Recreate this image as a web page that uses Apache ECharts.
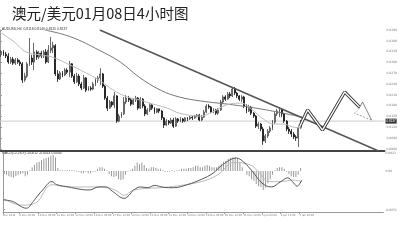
<!DOCTYPE html>
<html>
<head>
<meta charset="utf-8">
<script src="https://cdn.jsdelivr.net/npm/echarts@6/dist/echarts.min.js"></script>
<style>
  html, body { margin: 0; padding: 0; background: #fff; }
  #chart { width: 400px; height: 248px; }
</style>
</head>
<body>
<div id="chart"></div>
<script>
// bar positions of the time labels and their texts
const tickBars = [0, 7, 15, 23, 31, 39, 47, 55, 63, 71, 79, 87, 95, 103, 111, 119, 127]
const tickLabels = ['Dec 2014', '8 Dec 20:00', '10 Dec 04:00', '11 Dec 12:00', '12 Dec 20:00',
  '16 Dec 04:00', '17 Dec 12:00', '18 Dec 20:00', '22 Dec 04:00', '23 Dec 12:00', '24 Dec 20:00',
  '29 Dec 04:00', '30 Dec 12:00', '31 Dec 20:00', '5 Jan 04:00', '6 Jan 12:00', '7 Jan 20:00']
const priceTicks = [0.8054, 0.8060, 0.8090, 0.8120, 0.8150, 0.8180, 0.8210, 0.8240, 0.8270, 0.8300, 0.8330, 0.8360, 0.8390]
const macdTicks = [-0.0051, 0, 0.0023]

// 4h candles: [open, close, low, high]
const candles = [
  [0.8321, 0.8329, 0.8315, 0.8334], [0.8329, 0.8323, 0.8318, 0.8334], [0.8323, 0.8318, 0.8312, 0.8329],
  [0.8318, 0.8301, 0.8296, 0.8326], [0.8301, 0.8309, 0.8296, 0.8315], [0.8309, 0.8298, 0.8293, 0.8315],
  [0.8298, 0.8307, 0.8293, 0.8312], [0.8307, 0.8301, 0.8296, 0.8312], [0.8301, 0.8296, 0.8290, 0.8307],
  [0.8296, 0.8251, 0.8243, 0.8301], [0.8251, 0.8262, 0.8246, 0.8271], [0.8262, 0.8296, 0.8257, 0.8301],
  [0.8296, 0.8312, 0.8290, 0.8368], [0.8312, 0.8301, 0.8293, 0.8321], [0.8301, 0.8329, 0.8279, 0.8354],
  [0.8329, 0.8315, 0.8307, 0.8334], [0.8315, 0.8326, 0.8309, 0.8332], [0.8326, 0.8318, 0.8312, 0.8332],
  [0.8318, 0.8329, 0.8312, 0.8334], [0.8329, 0.8301, 0.8296, 0.8337], [0.8301, 0.8334, 0.8298, 0.8348],
  [0.8334, 0.8340, 0.8326, 0.8371], [0.8340, 0.8348, 0.8326, 0.8357], [0.8346, 0.8268, 0.8262, 0.8351],
  [0.8268, 0.8254, 0.8246, 0.8279], [0.8254, 0.8271, 0.8251, 0.8276], [0.8271, 0.8265, 0.8259, 0.8276],
  [0.8265, 0.8279, 0.8262, 0.8284], [0.8279, 0.8273, 0.8268, 0.8284], [0.8273, 0.8296, 0.8259, 0.8304],
  [0.8296, 0.8262, 0.8257, 0.8298], [0.8262, 0.8246, 0.8240, 0.8268], [0.8246, 0.8262, 0.8243, 0.8271],
  [0.8262, 0.8240, 0.8234, 0.8268], [0.8240, 0.8229, 0.8223, 0.8246], [0.8229, 0.8257, 0.8226, 0.8265],
  [0.8257, 0.8223, 0.8218, 0.8259], [0.8223, 0.8229, 0.8221, 0.8234], [0.8229, 0.8226, 0.8221, 0.8234],
  [0.8226, 0.8240, 0.8223, 0.8246], [0.8240, 0.8251, 0.8234, 0.8257], [0.8251, 0.8257, 0.8243, 0.8262],
  [0.8257, 0.8268, 0.8237, 0.8284], [0.8268, 0.8234, 0.8229, 0.8271], [0.8234, 0.8201, 0.8196, 0.8237],
  [0.8201, 0.8173, 0.8165, 0.8207], [0.8173, 0.8190, 0.8171, 0.8196], [0.8190, 0.8182, 0.8176, 0.8193],
  [0.8182, 0.8207, 0.8173, 0.8218], [0.8207, 0.8137, 0.8132, 0.8209], [0.8137, 0.8151, 0.8134, 0.8157],
  [0.8151, 0.8157, 0.8146, 0.8162], [0.8157, 0.8190, 0.8154, 0.8204], [0.8190, 0.8201, 0.8184, 0.8209],
  [0.8201, 0.8196, 0.8190, 0.8207], [0.8196, 0.8184, 0.8179, 0.8201], [0.8184, 0.8196, 0.8182, 0.8201],
  [0.8196, 0.8201, 0.8190, 0.8207], [0.8201, 0.8173, 0.8168, 0.8204], [0.8173, 0.8198, 0.8171, 0.8204],
  [0.8198, 0.8179, 0.8173, 0.8201], [0.8179, 0.8157, 0.8151, 0.8184], [0.8157, 0.8168, 0.8154, 0.8173],
  [0.8168, 0.8182, 0.8162, 0.8187], [0.8182, 0.8173, 0.8168, 0.8184], [0.8173, 0.8162, 0.8157, 0.8176],
  [0.8162, 0.8171, 0.8159, 0.8173], [0.8171, 0.8165, 0.8159, 0.8171], [0.8165, 0.8146, 0.8140, 0.8168],
  [0.8146, 0.8126, 0.8118, 0.8148], [0.8126, 0.8137, 0.8123, 0.8143], [0.8137, 0.8132, 0.8126, 0.8140],
  [0.8132, 0.8140, 0.8129, 0.8146], [0.8140, 0.8123, 0.8118, 0.8146], [0.8123, 0.8143, 0.8121, 0.8148],
  [0.8143, 0.8137, 0.8132, 0.8146], [0.8137, 0.8143, 0.8134, 0.8148], [0.8143, 0.8137, 0.8132, 0.8146],
  [0.8137, 0.8146, 0.8134, 0.8148], [0.8146, 0.8143, 0.8137, 0.8148], [0.8143, 0.8148, 0.8140, 0.8151],
  [0.8148, 0.8146, 0.8140, 0.8151], [0.8146, 0.8151, 0.8143, 0.8154], [0.8151, 0.8154, 0.8148, 0.8157],
  [0.8154, 0.8140, 0.8137, 0.8157], [0.8140, 0.8148, 0.8137, 0.8154], [0.8148, 0.8162, 0.8146, 0.8168],
  [0.8162, 0.8179, 0.8159, 0.8184], [0.8179, 0.8176, 0.8171, 0.8184], [0.8176, 0.8162, 0.8159, 0.8179],
  [0.8162, 0.8168, 0.8159, 0.8173], [0.8168, 0.8159, 0.8154, 0.8171], [0.8159, 0.8168, 0.8154, 0.8173],
  [0.8168, 0.8190, 0.8165, 0.8196], [0.8190, 0.8204, 0.8184, 0.8209], [0.8204, 0.8198, 0.8193, 0.8209],
  [0.8198, 0.8212, 0.8196, 0.8218], [0.8212, 0.8207, 0.8201, 0.8218], [0.8207, 0.8226, 0.8204, 0.8232],
  [0.8226, 0.8215, 0.8209, 0.8232], [0.8215, 0.8207, 0.8201, 0.8218], [0.8207, 0.8198, 0.8193, 0.8209],
  [0.8198, 0.8204, 0.8190, 0.8209], [0.8204, 0.8179, 0.8173, 0.8207], [0.8179, 0.8165, 0.8159, 0.8184],
  [0.8165, 0.8176, 0.8162, 0.8182], [0.8176, 0.8159, 0.8154, 0.8179], [0.8159, 0.8151, 0.8146, 0.8162],
  [0.8151, 0.8123, 0.8118, 0.8154], [0.8123, 0.8129, 0.8115, 0.8134], [0.8129, 0.8115, 0.8109, 0.8132],
  [0.8115, 0.8082, 0.8071, 0.8121], [0.8082, 0.8096, 0.8076, 0.8101], [0.8096, 0.8109, 0.8090, 0.8115],
  [0.8109, 0.8118, 0.8104, 0.8123], [0.8118, 0.8134, 0.8112, 0.8140], [0.8134, 0.8157, 0.8129, 0.8162],
  [0.8157, 0.8165, 0.8151, 0.8171], [0.8165, 0.8168, 0.8148, 0.8176], [0.8168, 0.8157, 0.8148, 0.8171],
  [0.8157, 0.8137, 0.8132, 0.8159], [0.8137, 0.8115, 0.8109, 0.8140], [0.8115, 0.8109, 0.8101, 0.8121],
  [0.8109, 0.8101, 0.8093, 0.8115], [0.8101, 0.8093, 0.8087, 0.8107], [0.8093, 0.8090, 0.8082, 0.8098],
  [0.8090, 0.8118, 0.8065, 0.8121], [0.8118, 0.8137, 0.8115, 0.8140]
]

// moving averages read at a few points: [bar position, price]
const fastMA = [[0, 0.8384], [6, 0.8357], [11, 0.8329], [17, 0.8321], [22, 0.8315], [28, 0.8298], [34, 0.8279],
  [42, 0.8251], [48, 0.8223], [54, 0.8204], [59, 0.8196], [65, 0.8184], [71, 0.8173], [76, 0.8159], [85, 0.8151],
  [90, 0.8162], [96, 0.8182], [102, 0.8187], [107, 0.8168], [111, 0.8146], [116, 0.8129], [120, 0.8129],
  [124, 0.8121], [128, 0.8118]]
const slowMA = [[19, 0.8390], [30, 0.8371], [42, 0.8334], [51, 0.8301], [59, 0.8259], [68, 0.8223], [76, 0.8204],
  [85, 0.8193], [99, 0.8182], [113, 0.8168], [128, 0.8148]]

// drawn annotations: down trend line, forecast zigzag and its arrow head
const trendLine = [[42.3, 0.8390], [160.5, 0.8054]]
const forecastPath = [[127, 0.8121], [130.4, 0.8168], [136.7, 0.8112], [146.1, 0.8218], [152.4, 0.8176]]
const arrowHeadSolid = [[152.0, 0.8170], [153.7, 0.8190], [157.5, 0.8140]]
const arrowHeadDashed = [[157.5, 0.8140], [150.3, 0.8159], [151.5, 0.8166]]

// MACD panel
const macdHist = [
  -0.0004, -0.0005, -0.0007, -0.0008, -0.0009, -0.0007, -0.0005, -0.0004, -0.0003, -0.0007,
  -0.0005, 0.0001, 0.0005, 0.0008, 0.0011, 0.0012, 0.0014, 0.0016, 0.0017, 0.0018,
  0.0020, 0.0021, 0.0018, 0.0004, 0.0001, 0.0001, 0.0001, 0.0001, 0.0001, 0.0001,
  0.0001, -0.0001, -0.0001, -0.0003, -0.0003, -0.0001, -0.0003, -0.0003, -0.0001, -0.0001,
  0.0003, 0.0005, 0.0005, 0.0003, 0.0001, -0.0004, -0.0007, -0.0008, -0.0007, -0.0011,
  -0.0012, -0.0011, -0.0005, -0.0001, 0.0001, 0.0003, 0.0007, 0.0011, 0.0009, 0.0011,
  0.0008, 0.0004, 0.0003, 0.0005, 0.0005, 0.0004, 0.0003, 0.0003, 0.0001, -0.0001,
  -0.0001, -0.0001, 0.0001, -0.0001, 0.0001, 0.0001, 0.0003, 0.0003, 0.0003, 0.0004,
  0.0004, 0.0005, 0.0007, 0.0007, 0.0005, 0.0005, 0.0007, 0.0008, 0.0007, 0.0005,
  0.0005, 0.0005, 0.0007, 0.0009, 0.0012, 0.0013, 0.0016, 0.0017, 0.0018, 0.0018,
  0.0016, 0.0012, 0.0005, 0.0000, -0.0005, -0.0007, -0.0011, -0.0013, -0.0017, -0.0020,
  -0.0021, -0.0025, -0.0022, -0.0016, -0.0011, -0.0005, 0.0001, 0.0004, 0.0005, 0.0005,
  0.0003, -0.0001, -0.0004, -0.0007, -0.0008, -0.0008, -0.0005, 0.0004
]
const macdLine = [[0, -0.0038], [4, -0.0040], [10, -0.0049], [13, -0.0040], [14, -0.0036], [17, -0.0025],
  [21, -0.0014], [23, -0.0018], [28, -0.0021], [33, -0.0024], [37, -0.0025], [41, -0.0021], [44, -0.0021],
  [47, -0.0027], [52, -0.0036], [54, -0.0032], [56, -0.0025], [59, -0.0021], [62, -0.0022], [65, -0.0019],
  [68, -0.0021], [71, -0.0022], [73, -0.0022], [79, -0.0018], [85, -0.0011], [90, -0.0003], [94, 0.0008],
  [100, 0.0017], [103, 0.0012], [107, -0.0001], [111, -0.0016], [115, -0.0021], [119, -0.0014],
  [122, -0.0009], [124, -0.0014], [126, -0.0020], [128, -0.0012]]
const signalLine = [[0, -0.0036], [8, -0.0045], [14, -0.0042], [21, -0.0018], [28, -0.0021], [42, -0.0021],
  [48, -0.0025], [52, -0.0032], [56, -0.0025], [71, -0.0021], [85, -0.0014], [92, -0.0005], [99, 0.0011],
  [106, 0.0008], [110, -0.0003], [114, -0.0014], [119, -0.0014], [124, -0.0012], [128, -0.0014]]

const lastClose = candles[candles.length - 1][1]
const tinyText = { fontFamily: 'DejaVu Sans', color: '#777' }

function plainLine(data, color, width, extra) {
  return Object.assign({
    type: 'line', data, showSymbol: false, silent: true,
    lineStyle: { color, width }
  }, extra)
}

const chart = echarts.init(document.getElementById('chart'))
chart.setOption({
  animation: false,
  backgroundColor: '#fff',
  title: {
    text: '澳元/美元01月08日4小时图', left: 7, top: 1,
    textStyle: { fontSize: 14.5, fontWeight: 'normal', color: '#222', fontFamily: 'Noto Sans CJK SC' }
  },
  graphic: [
    { type: 'text', left: 2, top: 28, style: { text: 'AUDUSD,H4  0.8118 0.8140 0.8115 0.8137', fontSize: 3.4, fill: '#333' } },
    { type: 'text', left: 2, top: 152, style: { text: 'MACD(12,26,9) -0.0012 -0.0014 0.0004', fontSize: 3.4, fill: '#333' } }
  ],
  grid: [
    { left: 0, top: 30, width: 385, height: 121 },
    { left: 0, top: 151, width: 385, height: 61 }
  ],
  xAxis: [
    {
      type: 'value', gridIndex: 0, min: 0, max: 163,
      axisLine: { show: true, onZero: false, lineStyle: { color: '#444', width: 2 } },
      axisTick: { show: false }, axisLabel: { show: false }, splitLine: { show: false }
    },
    {
      type: 'value', gridIndex: 1, min: 0, max: 163,
      axisLine: { show: true, onZero: false, lineStyle: { color: '#999' } },
      axisTick: { customValues: tickBars, length: 2, lineStyle: { color: '#999' } },
      axisLabel: {
        customValues: tickBars, align: 'left', fontSize: 2.6, margin: 1.5, ...tinyText,
        formatter: (v) => tickLabels[tickBars.indexOf(v)] || ''
      },
      splitLine: { show: false }
    }
  ],
  yAxis: [
    {
      type: 'value', gridIndex: 0, position: 'right', min: 0.8054, max: 0.8390,
      axisLine: { show: true, lineStyle: { color: '#999' } },
      axisTick: { show: true, customValues: priceTicks, length: 2, lineStyle: { color: '#999' } },
      axisLabel: { customValues: priceTicks, fontSize: 3, margin: 2, ...tinyText, formatter: (v) => v.toFixed(4) },
      splitLine: { show: false }
    },
    {
      type: 'value', gridIndex: 1, position: 'right', min: -0.0054, max: 0.00263,
      axisLine: { show: true, lineStyle: { color: '#999' } },
      axisTick: { show: true, customValues: macdTicks, length: 2, lineStyle: { color: '#999' } },
      axisLabel: {
        customValues: macdTicks, fontSize: 3, margin: 2, ...tinyText,
        formatter: (v) => (v === 0 ? '0.00' : v.toFixed(4))
      },
      splitLine: { show: false }
    }
  ],
  series: [
    // current price line with its value box on the price axis
    plainLine([[0, lastClose], [163, lastClose]], '#ccc', 1, {
      z: 1,
      endLabel: {
        show: true, distance: 1, formatter: () => lastClose.toFixed(4),
        fontSize: 3, color: '#fff', backgroundColor: '#333', padding: [1, 1]
      }
    }),
    plainLine(slowMA, '#777', 1, { smooth: 0.4 }),
    plainLine(fastMA, '#bbb', 1, { smooth: 0.4 }),
    {
      type: 'candlestick', xAxisIndex: 0, yAxisIndex: 0, silent: true,
      data: candles.map((d, i) => [i + 0.5, d[0], d[1], d[2], d[3]]),
      barWidth: 1.4,
      itemStyle: { color: '#fff', color0: '#111', borderColor: '#444', borderColor0: '#111', borderWidth: 0.8 }
    },
    plainLine(trendLine, '#555', 1.5),
    plainLine(forecastPath, '#333', 3.2, { z: 5 }),
    plainLine(forecastPath, '#fff', 1.3, { z: 6 }),
    plainLine(arrowHeadSolid, '#666', 0.8, { z: 6 }),
    plainLine(arrowHeadDashed, '#888', 0.8, { z: 6, lineStyle: { color: '#888', width: 0.8, type: [2, 1.5] } }),
    {
      type: 'bar', xAxisIndex: 1, yAxisIndex: 1, silent: true, barWidth: 0.8,
      data: macdHist.map((v, i) => [i + 0.5, v]),
      itemStyle: { color: '#999' }
    },
    plainLine(signalLine, '#bbb', 1, { xAxisIndex: 1, yAxisIndex: 1, smooth: 0.4 }),
    plainLine(macdLine, '#555', 1, { xAxisIndex: 1, yAxisIndex: 1, smooth: 0.4 })
  ]
})
</script>
</body>
</html>
